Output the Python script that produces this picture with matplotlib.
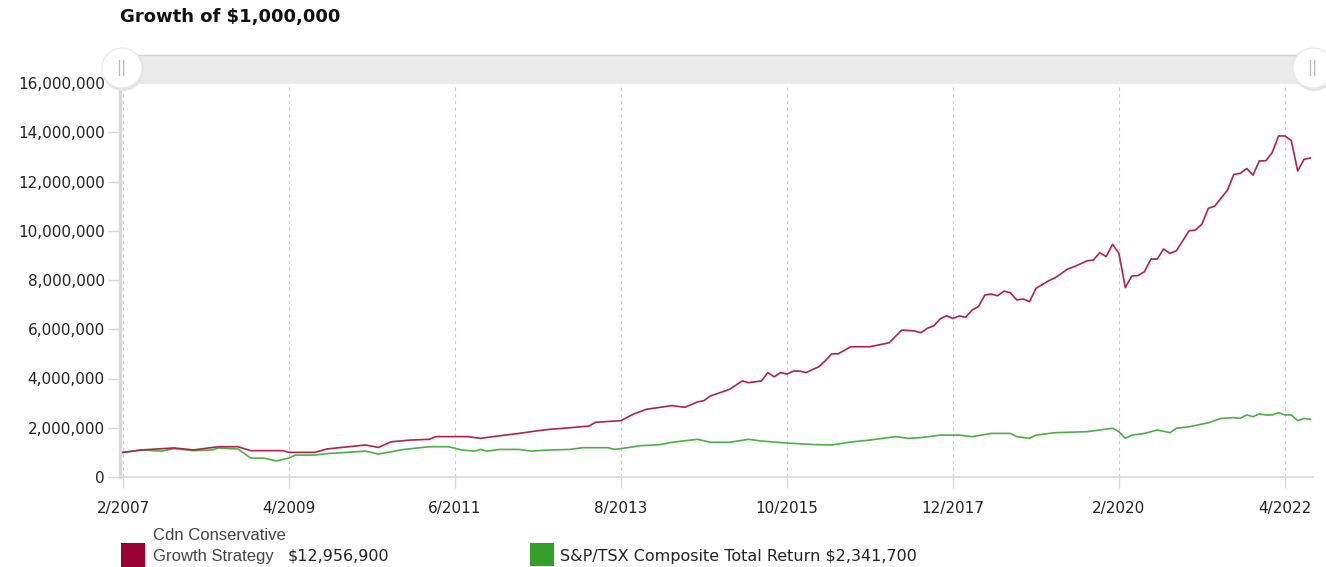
import matplotlib
matplotlib.use("Agg")
import matplotlib.pyplot as plt
from matplotlib.patches import Rectangle, Ellipse
from matplotlib.ticker import FuncFormatter

W, H = 1326, 567

# months counted from 2/2007, values in millions of dollars
fund_months = [0, 3, 8, 11, 15, 18, 20, 25, 26, 30, 32, 38, 40, 42, 45, 48, 49, 54, 56, 58,
               62, 65, 67, 70, 73, 74, 78, 80, 82, 86, 88, 90, 91, 92, 95, 97, 98, 100, 101,
               102, 103, 104, 105, 106, 107, 109, 110, 111, 112, 114, 117, 120, 122, 124, 125,
               126, 127, 128, 129, 130, 131, 132, 133, 134, 135, 136, 137, 138, 139, 140, 141,
               142, 143, 145, 146, 148, 149, 151, 152, 153, 154, 155, 156, 157, 158, 159, 160,
               161, 162, 163, 164, 165, 167, 168, 169, 170, 171, 173, 174, 175, 176, 177, 178,
               179, 180, 181, 182, 183, 184, 185, 186]
fund_values = [1.00, 1.10, 1.18, 1.10, 1.23, 1.23, 1.07, 1.07, 1.00, 1.00, 1.14, 1.30, 1.20,
               1.43, 1.50, 1.53, 1.64, 1.64, 1.57, 1.64, 1.77, 1.88, 1.94, 2.00, 2.07, 2.22,
               2.29, 2.56, 2.75, 2.90, 2.83, 3.05, 3.10, 3.29, 3.56, 3.90, 3.83, 3.90, 4.24,
               4.07, 4.24, 4.18, 4.30, 4.30, 4.24, 4.48, 4.72, 5.00, 5.00, 5.29, 5.29, 5.45,
               5.97, 5.93, 5.86, 6.04, 6.14, 6.42, 6.55, 6.44, 6.54, 6.49, 6.78, 6.92, 7.39,
               7.43, 7.36, 7.55, 7.48, 7.19, 7.23, 7.12, 7.66, 7.97, 8.09, 8.45, 8.54, 8.78,
               8.81, 9.11, 8.95, 9.45, 9.08, 7.69, 8.16, 8.18, 8.34, 8.85, 8.85, 9.26, 9.08,
               9.19, 10.00, 10.03, 10.27, 10.91, 11.00, 11.65, 12.29, 12.33, 12.53, 12.26,
               12.84, 12.84, 13.17, 13.85, 13.85, 13.66, 12.43, 12.90, 12.9569]

index_months = [0, 3, 6, 8, 11, 14, 15, 18, 20, 22, 24, 26, 27, 30, 32, 38, 40, 44, 48, 51,
                53, 55, 56, 57, 59, 62, 64, 66, 70, 72, 76, 77, 79, 81, 84, 86, 90, 92, 95,
                98, 100, 104, 108, 111, 114, 117, 121, 123, 125, 128, 131, 133, 136, 139, 140,
                142, 143, 146, 151, 153, 155, 156, 157, 158, 160, 162, 164, 165, 167, 170, 172,
                174, 175, 176, 177, 178, 179, 180, 181, 182, 183, 184, 185, 186]
index_values = [1.00, 1.10, 1.05, 1.15, 1.07, 1.10, 1.18, 1.14, 0.77, 0.77, 0.65, 0.77, 0.89,
                0.89, 0.95, 1.05, 0.93, 1.12, 1.23, 1.23, 1.10, 1.05, 1.12, 1.05, 1.12, 1.12,
                1.05, 1.09, 1.12, 1.19, 1.19, 1.12, 1.19, 1.27, 1.31, 1.41, 1.53, 1.41, 1.41,
                1.53, 1.46, 1.38, 1.32, 1.30, 1.42, 1.50, 1.64, 1.57, 1.60, 1.70, 1.70, 1.64,
                1.77, 1.77, 1.64, 1.57, 1.70, 1.80, 1.84, 1.91, 1.98, 1.84, 1.57, 1.70, 1.77,
                1.91, 1.80, 1.98, 2.04, 2.20, 2.38, 2.41, 2.38, 2.52, 2.45, 2.56, 2.52, 2.52,
                2.61, 2.52, 2.52, 2.29, 2.38, 2.3417]

tick_months = [0, 26, 52, 78, 104, 130, 156, 182]
tick_labels = ["2/2007", "4/2009", "6/2011", "8/2013", "10/2015", "12/2017", "2/2020", "4/2022"]
y_ticks = [0, 2, 4, 6, 8, 10, 12, 14, 16]

fund_name = ["Cdn Conservative", "Growth Strategy"]
fund_final = "$12,956,900"
index_label = "S&P/TSX Composite Total Return $2,341,700"

RED = "#b3214c"
GREEN = "#4caf45"
AXIS_GREY = "#d9d9d9"
TEXT = "#222222"


def fx(x):
    return x / W


def fy(y):
    return 1 - y / H


fig = plt.figure(figsize=(W / 100, H / 100), dpi=100)
ax = fig.add_axes([fx(120), fy(477), fx(1313) - fx(120), fy(83) - fy(477)])

ax.plot(index_months, [v * 1e6 for v in index_values], color=GREEN, lw=1.2, zorder=3)
ax.plot(fund_months, [v * 1e6 for v in fund_values], color=RED, lw=1.2, zorder=4)

ax.set_xlim(-0.47, 186.4)
ax.set_ylim(0, 16e6)
ax.set_xticks(tick_months)
ax.set_xticklabels(tick_labels)
ax.set_yticks([v * 1e6 for v in y_ticks])
ax.yaxis.set_major_formatter(FuncFormatter(lambda v, p: f"{int(v):,}"))

for m in tick_months:
    ax.axvline(m, color="#cccccc", lw=0.8, ls=(0, (3, 3)), zorder=1)

for side in ["top", "right"]:
    ax.spines[side].set_visible(False)
ax.spines["left"].set_color(AXIS_GREY)
ax.spines["left"].set_linewidth(2.5)
ax.spines["bottom"].set_color(AXIS_GREY)
ax.spines["bottom"].set_linewidth(1.2)
ax.tick_params(axis="both", colors=AXIS_GREY, labelcolor=TEXT, labelsize=11)
ax.tick_params(axis="x", length=8, width=1, pad=9)
ax.tick_params(axis="y", length=9, width=1, pad=2)

# title
fig.text(fx(120), fy(17), "Growth of $1,000,000", fontsize=13, fontweight="bold",
         color="#111111", va="center", ha="left")

# range selector bar
fig.add_artist(Rectangle((fx(120), fy(84)), fx(1313) - fx(120), fy(55) - fy(84),
                         transform=fig.transFigure, facecolor="#ebebeb",
                         edgecolor="none"))
fig.add_artist(plt.Line2D([fx(120), fx(1313)], [fy(55), fy(55)], transform=fig.transFigure,
                          color="#d6d6d6", lw=1))
for hx in [122, 1313]:
    fig.add_artist(Ellipse((fx(hx + 1), fy(70)), fx(42), 42 / H, transform=fig.transFigure,
                           facecolor="#e4e4e4", edgecolor="none", zorder=5))
    fig.add_artist(Ellipse((fx(hx), fy(68)), fx(40), 40 / H, transform=fig.transFigure,
                           facecolor="white", edgecolor="#e8e8e8", lw=0.8, zorder=6))
    fig.text(fx(hx - 1), fy(68), "||", fontsize=11, color="#bbbbbb", ha="center",
             va="center", zorder=7)

# legend
fig.add_artist(Rectangle((fx(121), fy(567)), fx(24), 24 / H, transform=fig.transFigure,
                         facecolor="#990033", edgecolor="none"))
fig.text(fx(153), fy(536), fund_name[0], fontsize=12, family="Liberation Sans",
         color="#444444", va="center", ha="left")
fig.text(fx(153), fy(557), fund_name[1], fontsize=12, family="Liberation Sans",
         color="#444444", va="center", ha="left")
fig.text(fx(288), fy(556), fund_final, fontsize=11.5, color=TEXT, va="center", ha="left")

fig.add_artist(Rectangle((fx(530), fy(566)), fx(24), 23 / H, transform=fig.transFigure,
                         facecolor="#33a02c", edgecolor="none"))
fig.text(fx(560), fy(556), index_label, fontsize=11.5, color=TEXT, va="center", ha="left")

fig.savefig("out.png", dpi=100)
